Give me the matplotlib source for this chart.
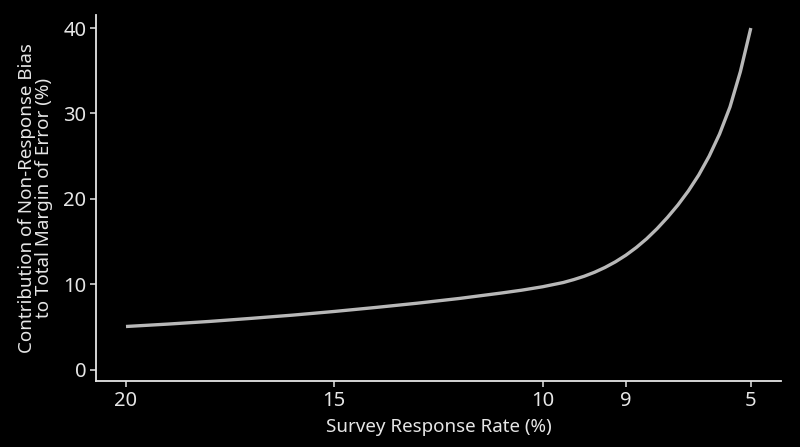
import matplotlib
matplotlib.use("Agg")
import matplotlib.pyplot as plt

# Data
response_rate = [20, 19, 18, 17, 16, 15, 14, 13, 12, 11, 10.5, 10, 9.5, 9.25, 9,
                 8.75, 8.5, 8.25, 8, 7.75, 7.5, 7.25, 7, 6.75, 6.5, 6.25, 6,
                 5.75, 5.5, 5.25, 5]
bias_contribution = [5.07, 5.35, 5.66, 6.02, 6.40, 6.83, 7.30, 7.80, 8.35, 8.98,
                     9.32, 9.72, 10.22, 10.56, 10.95, 11.42, 11.98, 12.64, 13.41,
                     14.31, 15.34, 16.52, 17.84, 19.29, 20.93, 22.8, 25.0, 27.6,
                     30.76, 34.9, 40.0]
x_ticks = [20, 15, 10, 8, 5]
x_tick_labels = ["20", "15", "10", "9", "5"]
y_ticks = [0, 10, 20, 30, 40]

plt.rcParams['font.family'] = ['Noto Sans', 'DejaVu Sans']
fg = '#e6e6e6'

fig = plt.figure(figsize=(8, 4.47), dpi=100, facecolor='black')
ax = fig.add_axes([0.12, 0.148, 0.856, 0.818], facecolor='black')

ax.plot(response_rate, bias_contribution, color='#b8b8b8', linewidth=2.4,
        solid_capstyle='butt', solid_joinstyle='round')

ax.set_xlim(20.72, 4.28)
ax.set_ylim(-1.29, 41.5)
ax.set_xticks(x_ticks)
ax.set_xticklabels(x_tick_labels)
ax.set_yticks(y_ticks)

for lbl in ax.get_xticklabels():
    if lbl.get_text() == "9":
        lbl.set_fontweight('bold')

for s in ['top', 'right']:
    ax.spines[s].set_visible(False)
for s in ['left', 'bottom']:
    ax.spines[s].set_color(fg)
    ax.spines[s].set_linewidth(1.3)

ax.tick_params(colors=fg, labelsize=14.5, length=4, width=1.1, pad=3)

ax.set_xlabel("Survey Response Rate (%)", color=fg, fontsize=13.5, labelpad=5)
ax.set_ylabel("Contribution of Non-Response Bias\nto Total Margin of Error (%)",
              color=fg, fontsize=13.5, labelpad=7, linespacing=0.95)

fig.savefig("out.png", dpi=100, facecolor='black')
